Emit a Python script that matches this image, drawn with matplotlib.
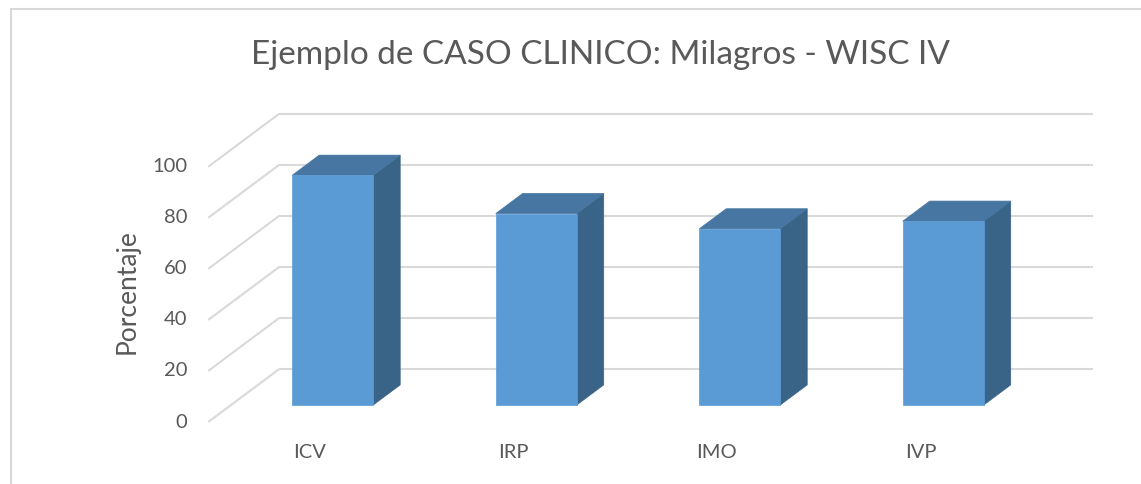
import matplotlib
matplotlib.use("Agg")
import matplotlib.pyplot as plt
from matplotlib.patches import Polygon, Rectangle

# ---- data ----
categories = ["ICV", "IRP", "IMO", "IVP"]
values = [90, 75, 69, 72]
yticks = [0, 20, 40, 60, 80, 100]
title = "Ejemplo de CASO CLINICO: Milagros - WISC IV"
ylabel = "Porcentaje"

# ---- style / geometry ----
W, H, DPI = 1141, 484, 100
FONT = "Lato"
TXT = "#595959"
GRID = "#D9D9D9"
C_FRONT = "#5B9BD5"
C_TOP = "#4676A1"
C_SIDE = "#396387"
DX, DY = 0.349, 20.76          # oblique depth offset (category units, value units)
BAR_W = 0.398
D0, D1 = 0.32, 0.70            # bar front/back depth fractions

fig = plt.figure(figsize=(W / DPI, H / DPI), dpi=DPI)
ax = fig.add_axes([0, 0, 1, 1])
ax.set_xlim(-310 / 203.5, (W - 310) / 203.5)
ax.set_ylim((422 - H) / 2.553, 422 / 2.553)
ax.axis("off")

n = len(categories)
xl, xr = -0.5, n - 0.5

# back wall gridlines and left wall diagonals
for v in yticks:
    ax.plot([xl + DX, xr + DX], [v + DY, v + DY], color=GRID, lw=1.5,
            solid_capstyle="butt", zorder=1)
    ax.plot([xl, xl + DX], [v, v + DY], color=GRID, lw=1.5,
            solid_capstyle="butt", zorder=1)
    ax.annotate(str(v), (xl, v), xytext=(-21, 0), textcoords="offset pixels",
                ha="right", va="center", fontsize=14.5, color=TXT,
                family=FONT)

# bars
for i, (c, v) in enumerate(zip(categories, values)):
    fx0 = i - BAR_W / 2 + D0 * DX
    fx1 = i + BAR_W / 2 + D0 * DX
    fy0 = D0 * DY
    fy1 = v + D0 * DY
    ddx = (D1 - D0) * DX
    ddy = (D1 - D0) * DY
    side = Polygon([(fx1, fy0), (fx1 + ddx, fy0 + ddy), (fx1 + ddx, fy1 + ddy),
                    (fx1, fy1)], closed=True, facecolor=C_SIDE, edgecolor=C_SIDE,
                   lw=0.5, zorder=3)
    top = Polygon([(fx0, fy1), (fx1, fy1), (fx1 + ddx, fy1 + ddy),
                   (fx0 + ddx, fy1 + ddy)], closed=True, facecolor=C_TOP,
                  edgecolor=C_TOP, lw=0.5, zorder=3)
    front = Rectangle((fx0, fy0), fx1 - fx0, fy1 - fy0, facecolor=C_FRONT,
                      edgecolor=C_FRONT, lw=0.5, zorder=4)
    ax.add_patch(side)
    ax.add_patch(top)
    ax.add_patch(front)
    ax.annotate(c, (i, 0), xytext=(0, -30), textcoords="offset pixels",
                ha="center", va="center", fontsize=14.5, color=TXT, family=FONT)

# title and axis label
fig.text(600 / W, 1 - 55 / H, title, ha="center", va="center", fontsize=24,
         color=TXT, family=FONT)
fig.text(127 / W, 1 - 292 / H, ylabel, ha="center", va="center", fontsize=19,
         rotation=90, color=TXT, family=FONT)

# chart frame (left & top edges visible)
fig.add_artist(Rectangle((11 / W, -0.1), 1.2, 1.1 - 9 / H,
                         transform=fig.transFigure, fill=False,
                         edgecolor=GRID, lw=1.5))

fig.savefig("out.png", dpi=DPI)
